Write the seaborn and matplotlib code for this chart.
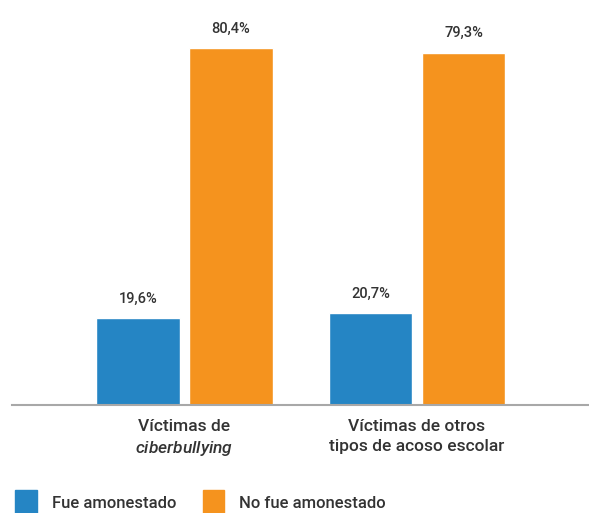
import pandas as pd
import matplotlib.pyplot as plt
import seaborn as sns

# Data
groups = ["Víctimas de\n$\\it{ciberbullying}$", "Víctimas de otros\ntipos de acoso escolar"]
series = ["Fue amonestado", "No fue amonestado"]
fue = [19.6, 20.7]
no_fue = [80.4, 79.3]
colors = ["#2585C4", "#F5931E"]

df = pd.DataFrame({
    "grupo": groups * 2,
    "serie": [series[0]] * 2 + [series[1]] * 2,
    "valor": fue + no_fue,
})

sns.set_theme(style="white")
plt.rcParams["font.family"] = ["Roboto", "DejaVu Sans"]
plt.rcParams["font.weight"] = 500
plt.rcParams["mathtext.fontset"] = "custom"
plt.rcParams["mathtext.it"] = "Roboto:italic:medium"
plt.rcParams["mathtext.rm"] = "Roboto:medium"

fig = plt.figure(figsize=(5.89, 5.13), dpi=100)
ax = fig.add_axes([12 / 589, 1 - 405 / 513, 1 - 12 / 589, 405 / 513])

sns.barplot(data=df, x="grupo", y="valor", hue="serie", palette=colors,
            width=0.8, gap=0.1, saturation=1, ax=ax, legend=False)

for cont in ax.containers:
    ax.bar_label(cont, labels=[f"{v:.1f}%".replace(".", ",") for v in cont.datavalues],
                 padding=9, fontsize=10.5, color="#333333", fontweight=500)

ax.set_xlim(-0.742, 1.74)
ax.set_ylim(0, 91.2)
ax.set_xlabel("")
ax.set_ylabel("")
ax.set_yticks([])
for s in ["top", "right", "left"]:
    ax.spines[s].set_visible(False)
ax.spines["bottom"].set_color("#A8A8A8")
ax.spines["bottom"].set_linewidth(1.5)
ax.tick_params(axis="x", length=0, pad=10, labelsize=12.5, labelcolor="#333333")
for t in ax.get_xticklabels():
    t.set_linespacing(1.4)
    t.set_fontweight(500)

handles = [plt.Rectangle((0, 0), 1, 1, color=c) for c in colors]
fig.legend(handles, series, loc="lower left", bbox_to_anchor=(0.0, -0.035), ncol=2,
           frameon=False, handlelength=1.3, handleheight=2.0,
           handletextpad=0.9, columnspacing=1.6, labelcolor="#333333",
           prop={"weight": 500, "size": 12})

fig.savefig("out.png", dpi=100)
